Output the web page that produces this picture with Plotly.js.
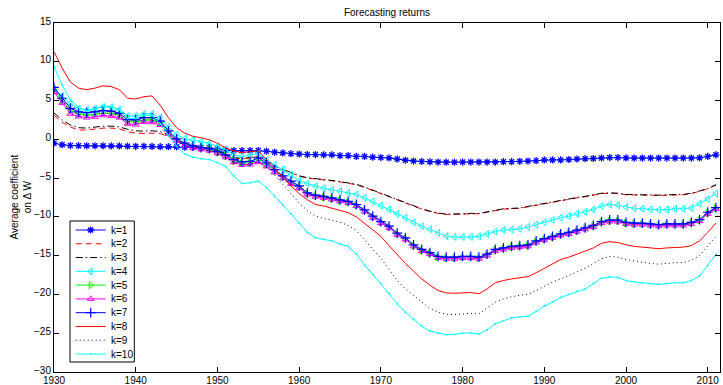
<!DOCTYPE html>
<html>
<head>
<meta charset="utf-8">
<script src="https://cdn.plot.ly/plotly-3.0.1.min.js"></script>
<style>html,body{margin:0;padding:0;background:#fff;}#chart{width:723px;height:385px;}</style>
</head>
<body>
<div id="chart"></div>
<script>
// Years 1930..2011
var years = [];
for (var y = 1930; y <= 2011; y++) years.push(y);

var seriesNames = ['k=1','k=2','k=3','k=4','k=5','k=6','k=7','k=8','k=9','k=10'];

var k1 = [-0.5,-0.7,-0.8,-0.82,-0.84,-0.84,-0.84,-0.85,-0.85,-0.88,
  -0.9,-0.9,-0.92,-0.95,-0.95,-0.97,-1.02,-1.02,-1.08,-1.1,
  -1.26,-1.4,-1.45,-1.45,-1.45,-1.45,-1.53,-1.66,-1.75,-1.85,
  -1.9,-1.97,-1.97,-2.0,-2.0,-2.1,-2.1,-2.2,-2.2,-2.3,
  -2.35,-2.4,-2.55,-2.7,-2.8,-2.85,-2.9,-2.93,-2.95,-2.95,
  -2.93,-2.93,-2.93,-2.93,-2.93,-2.88,-2.88,-2.84,-2.8,-2.75,
  -2.65,-2.65,-2.65,-2.6,-2.55,-2.5,-2.47,-2.4,-2.35,-2.35,
  -2.4,-2.42,-2.42,-2.42,-2.42,-2.42,-2.42,-2.42,-2.42,-2.38,
  -2.2,-2.0];
var k2 = [3.1,2.2,1.6,1.2,1.2,1.35,1.45,1.45,1.35,1.0,
  0.8,0.75,0.8,0.75,0.35,-0.3,-0.7,-0.9,-1.1,-1.2,
  -1.55,-1.9,-2.4,-2.5,-2.4,-2.2,-2.85,-3.5,-3.9,-4.35,
  -4.75,-5.0,-5.1,-5.2,-5.35,-5.5,-5.65,-5.85,-6.2,-6.6,
  -7.0,-7.4,-7.8,-8.3,-8.7,-9.0,-9.3,-9.55,-9.7,-9.7,
  -9.65,-9.6,-9.6,-9.4,-9.2,-9.0,-8.95,-8.9,-8.7,-8.5,
  -8.3,-8.1,-7.95,-7.75,-7.55,-7.4,-7.2,-7.0,-6.95,-7.0,
  -7.15,-7.2,-7.2,-7.2,-7.25,-7.2,-7.2,-7.15,-7.0,-6.7,
  -6.4,-5.9];
var k3 = [3.4,2.5,1.85,1.5,1.45,1.6,1.7,1.7,1.6,1.3,
  1.1,1.05,1.1,1.0,0.6,-0.15,-0.6,-0.85,-1.05,-1.15,
  -1.5,-1.85,-2.35,-2.45,-2.35,-2.15,-2.8,-3.45,-3.85,-4.3,
  -4.7,-4.95,-5.05,-5.15,-5.3,-5.45,-5.6,-5.8,-6.15,-6.55,
  -6.95,-7.35,-7.75,-8.25,-8.65,-8.95,-9.25,-9.5,-9.65,-9.65,
  -9.6,-9.55,-9.55,-9.35,-9.15,-8.95,-8.9,-8.85,-8.65,-8.45,
  -8.25,-8.05,-7.9,-7.7,-7.5,-7.35,-7.15,-6.95,-6.9,-6.95,
  -7.1,-7.15,-7.15,-7.15,-7.2,-7.15,-7.15,-7.1,-6.95,-6.65,
  -6.35,-5.85];
var k4 = [6.5,5.6,4.6,3.95,3.8,3.95,4.2,4.15,3.85,3.0,
  3.0,3.3,3.3,2.8,1.6,0.6,0.1,-0.1,-0.3,-0.5,
  -0.9,-1.35,-2.0,-2.2,-2.05,-1.85,-2.65,-3.3,-3.9,-4.55,
  -5.3,-5.7,-6.05,-6.3,-6.5,-6.7,-6.9,-7.1,-7.55,-8.0,
  -8.55,-9.05,-9.6,-10.1,-10.7,-11.2,-11.6,-12.05,-12.5,-12.6,
  -12.6,-12.6,-12.5,-12.2,-11.9,-11.7,-11.65,-11.55,-11.3,-11.0,
  -10.7,-10.4,-10.1,-9.9,-9.6,-9.35,-9.05,-8.6,-8.4,-8.5,
  -8.75,-8.9,-8.95,-9.05,-9.1,-9.05,-8.95,-8.95,-8.85,-8.3,
  -7.7,-7.0];
var k5 = [6.4,5.0,3.7,3.25,3.1,3.2,3.4,3.35,3.1,2.3,
  2.2,2.5,2.5,2.1,0.9,-0.1,-0.65,-0.95,-1.15,-1.3,
  -1.65,-2.15,-2.75,-3.1,-3.05,-2.65,-3.25,-4.05,-4.85,-5.55,
  -6.15,-7.0,-7.3,-7.45,-7.65,-7.9,-8.1,-8.5,-9.2,-10.0,
  -10.7,-11.3,-12.2,-12.8,-13.7,-14.3,-14.7,-15.2,-15.3,-15.3,
  -15.2,-15.2,-15.3,-14.9,-14.3,-14.1,-13.9,-13.8,-13.7,-13.2,
  -12.9,-12.6,-12.3,-12.1,-11.8,-11.5,-11.2,-10.7,-10.5,-10.5,
  -10.8,-10.9,-10.9,-11.0,-11.1,-11.0,-11.0,-11.0,-10.8,-10.45,
  -9.5,-8.9];
var k6 = [6.1,4.7,3.3,2.95,2.8,2.9,3.1,3.0,2.8,2.0,
  1.9,2.25,2.2,1.85,0.7,-0.2,-0.8,-1.1,-1.3,-1.45,
  -1.8,-2.3,-2.95,-3.3,-3.25,-2.95,-3.5,-4.25,-5.0,-5.75,
  -6.3,-7.1,-7.4,-7.55,-7.75,-8.0,-8.2,-8.6,-9.3,-10.1,
  -10.8,-11.4,-12.3,-12.9,-13.8,-14.4,-14.8,-15.3,-15.4,-15.4,
  -15.3,-15.3,-15.4,-15.0,-14.4,-14.2,-14.0,-13.9,-13.8,-13.3,
  -13.0,-12.7,-12.4,-12.2,-11.9,-11.6,-11.3,-10.8,-10.6,-10.6,
  -10.9,-11.0,-11.0,-11.1,-11.2,-11.1,-11.1,-11.1,-10.9,-10.55,
  -9.6,-9.0];
var k7 = [6.7,5.3,4.0,3.55,3.45,3.55,3.7,3.65,3.35,2.55,
  2.5,2.8,2.8,2.35,1.1,0.05,-0.5,-0.85,-1.05,-1.2,
  -1.55,-2.0,-2.6,-2.9,-2.85,-2.4,-3.05,-3.9,-4.7,-5.4,
  -6.0,-6.9,-7.2,-7.35,-7.55,-7.8,-8.0,-8.4,-9.1,-9.9,
  -10.6,-11.2,-12.1,-12.7,-13.6,-14.2,-14.6,-15.1,-15.2,-15.2,
  -15.1,-15.1,-15.2,-14.8,-14.2,-14.0,-13.8,-13.7,-13.6,-13.1,
  -12.8,-12.5,-12.2,-12.0,-11.7,-11.4,-11.1,-10.6,-10.4,-10.4,
  -10.7,-10.8,-10.8,-10.9,-11.0,-10.9,-10.9,-10.9,-10.7,-10.35,
  -9.4,-8.8];
var k8 = [11.3,9.2,7.4,6.6,6.4,6.6,6.9,6.8,6.4,5.3,
  5.2,5.5,5.6,4.4,2.8,1.5,0.8,0.4,0.2,-0.05,
  -0.5,-1.1,-1.5,-1.7,-1.6,-1.5,-2.6,-3.8,-4.9,-6.0,
  -7.0,-7.8,-8.4,-8.6,-8.85,-9.1,-9.45,-10.0,-10.8,-11.7,
  -12.5,-13.7,-14.9,-16.0,-17.0,-18.0,-18.8,-19.5,-19.8,-19.85,
  -19.8,-19.75,-19.9,-19.3,-18.5,-18.2,-18.0,-17.85,-17.7,-17.2,
  -16.6,-16.1,-15.5,-15.2,-14.8,-14.5,-14.0,-13.4,-13.2,-13.3,
  -13.6,-13.8,-13.9,-14.0,-14.1,-14.0,-13.95,-13.9,-13.7,-13.1,
  -12.0,-10.8];
var k9 = [6.3,5.0,3.6,3.2,3.1,3.2,3.4,3.3,3.05,2.3,
  2.2,2.5,2.5,2.0,0.8,-0.2,-0.8,-1.1,-1.3,-1.5,
  -1.9,-2.4,-3.0,-3.3,-3.2,-2.9,-3.6,-4.6,-5.8,-7.0,
  -8.2,-9.2,-9.9,-10.2,-10.4,-10.7,-11.1,-11.8,-12.9,-14.2,
  -15.3,-16.8,-18.2,-19.3,-20.1,-21.0,-21.8,-22.3,-22.55,-22.6,
  -22.5,-22.45,-22.5,-21.8,-21.0,-20.6,-20.3,-20.1,-20.0,-19.5,
  -18.9,-18.4,-18.0,-17.6,-17.1,-16.6,-16.0,-15.4,-15.1,-15.2,
  -15.5,-15.7,-15.85,-16.0,-16.1,-16.0,-15.9,-15.9,-15.6,-15.0,
  -13.8,-12.5];
var k10 = [9.35,7.0,5.1,4.1,3.65,3.9,4.3,4.2,3.8,2.7,
  2.7,3.1,3.1,2.0,0.5,-0.9,-1.9,-2.3,-2.5,-2.6,
  -3.0,-3.5,-4.7,-5.7,-5.6,-5.4,-6.2,-7.3,-8.4,-9.6,
  -10.8,-12.0,-12.7,-12.9,-13.1,-13.5,-13.8,-14.8,-16.2,-17.4,
  -18.6,-19.9,-21.2,-22.3,-23.2,-24.1,-24.7,-25.0,-25.2,-25.15,
  -25.0,-24.95,-25.1,-24.6,-23.8,-23.4,-23.0,-22.9,-22.8,-22.2,
  -21.5,-21.0,-20.4,-20.0,-19.6,-19.3,-18.6,-17.9,-17.75,-17.8,
  -18.2,-18.4,-18.5,-18.6,-18.7,-18.6,-18.5,-18.5,-18.2,-17.6,
  -16.3,-14.85];

var xTicks = [1930,1940,1950,1960,1970,1980,1990,2000,2010];
var yTicks = [-30,-25,-20,-15,-10,-5,0,5,10,15];

var allValues = [k1,k2,k3,k4,k5,k6,k7,k8,k9,k10];

// styles (kept separate from data)
var styles = [
  {color:'#0000ff', dash:'solid', symbol:'asterisk-open', size:6, mlw:1.3},
  {color:'#ff0000', dash:'6px,4px', symbol:null},
  {color:'#000000', dash:'7px,3px,1.5px,3px', symbol:null},
  {color:'#00ffff', dash:'solid', symbol:'triangle-left-open', size:6, mlw:1},
  {color:'#00ff00', dash:'solid', symbol:'triangle-right-open', size:6, mlw:1},
  {color:'#ff00ff', dash:'solid', symbol:'triangle-up-open', size:6, mlw:1},
  {color:'#0000ff', dash:'solid', symbol:'cross-thin-open', size:7, mlw:1.2},
  {color:'#ff0000', dash:'solid', symbol:null},
  {color:'#000000', dash:'1px,3px', symbol:null},
  {color:'#00ffff', dash:'solid', symbol:'circle', size:2, mlw:0}
];

var traces = [];
allValues.forEach(function(vals, i){
  var s = styles[i];
  var t = {
    x: years, y: vals, type:'scatter', name: seriesNames[i],
    mode: s.symbol ? 'lines+markers' : 'lines',
    line: {color: s.color, width: 1, dash: s.dash},
    showlegend: false, hoverinfo:'skip'
  };
  if (s.symbol) t.marker = {symbol:s.symbol, size:s.size, color:s.color, line:{color:s.color, width:s.mlw}};
  traces.push(t);
});

// custom legend drawn on a pixel-mapped overlay axis pair
var L = {x0:70, x1:134.3, y0:221, y1:362, row0:230, rowStep:13.78, s0:75.7, s1:105.7, tx:108.5};
traces.push({x:[L.x0,L.x1,L.x1,L.x0,L.x0], y:[L.y0,L.y0,L.y1,L.y1,L.y0], xaxis:'x2', yaxis:'y2',
  type:'scatter', mode:'lines', fill:'toself', fillcolor:'#ffffff', line:{color:'#000', width:1},
  showlegend:false, hoverinfo:'skip'});
var annotations = [];
seriesNames.forEach(function(nm, i){
  var s = styles[i];
  var yy = L.row0 + i*L.rowStep;
  traces.push({x:[L.s0,L.s1], y:[yy,yy], xaxis:'x2', yaxis:'y2', type:'scatter', mode:'lines',
    line:{color:s.color, width:1, dash:s.dash}, showlegend:false, hoverinfo:'skip'});
  if (s.symbol) traces.push({x:[(L.s0+L.s1)/2], y:[yy], xaxis:'x2', yaxis:'y2', type:'scatter', mode:'markers',
    marker:{symbol:s.symbol, size:s.size, color:s.color, line:{color:s.color, width:s.mlw}}, showlegend:false, hoverinfo:'skip'});
  annotations.push({xref:'x2', yref:'y2', x:L.tx, y:yy, text:nm, showarrow:false, xanchor:'left', yanchor:'middle',
    font:{family:'Liberation Sans, Arial, sans-serif', size:10, color:'#000'}});
});
annotations.push({xref:'paper', yref:'paper', x:(20-54)/666, y:0.5, text:'Average coefficient<br>on \u0394 W',
  textangle:-90, showarrow:false, xanchor:'center', yanchor:'middle',
  font:{family:'Liberation Sans, Arial, sans-serif', size:10, color:'#000'}});

var axisCommon = {showline:true, linecolor:'#000', linewidth:1, mirror:'ticks', ticks:'inside', ticklen:5,
  tickcolor:'#000', tickwidth:1, showgrid:false, zeroline:false, automargin:false,
  tickfont:{family:'Liberation Sans, Arial, sans-serif', size:10, color:'#000'}};

var layout = {
  width:723, height:385,
  margin:{l:54, r:3, t:23, b:13, pad:0},
  paper_bgcolor:'#fff', plot_bgcolor:'#fff',
  showlegend:false,
  title:{text:'Forecasting returns', font:{family:'Liberation Sans, Arial, sans-serif', size:10, color:'#000'},
    xref:'paper', x:0.5, xanchor:'center', yref:'container', y:1-12.7/385, yanchor:'middle'},
  xaxis: Object.assign({}, axisCommon, {range:[1930,2011.5], tickvals:xTicks, ticktext:xTicks.map(String), ticklabelstandoff:-1}),
  yaxis: Object.assign({}, axisCommon, {range:[-30,15], tickvals:yTicks, ticklabelshift:-2}),
  xaxis2:{overlaying:'x', range:[54,720], visible:false, anchor:'y2'},
  yaxis2:{overlaying:'y', range:[372,23], visible:false, anchor:'x2'},
  annotations: annotations
};

Plotly.newPlot('chart', traces, layout, {staticPlot:true, displayModeBar:false});
</script>
</body>
</html>
